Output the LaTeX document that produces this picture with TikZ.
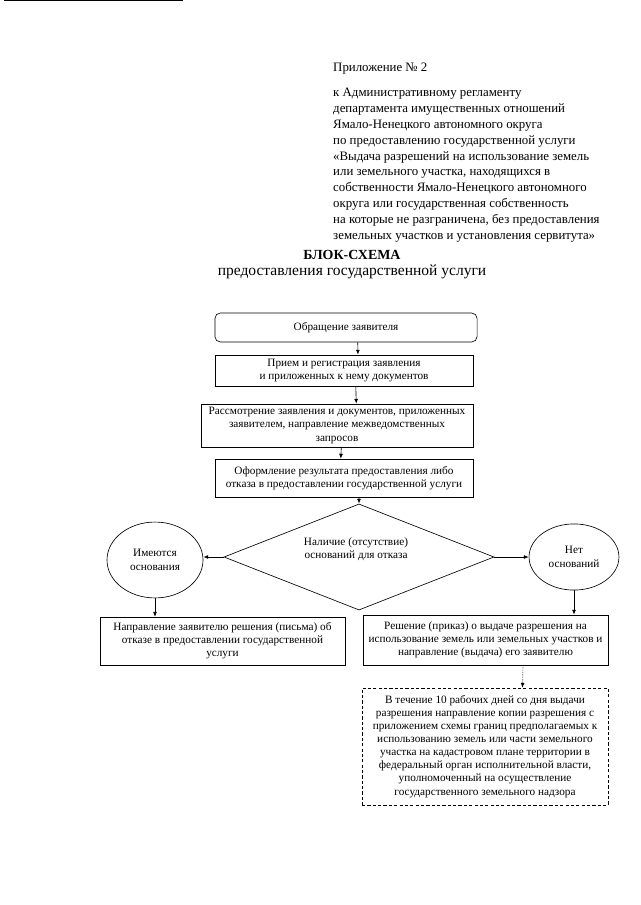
\documentclass[tikz,border=0pt]{standalone}
\usepackage{fontspec}
\setmainfont{Liberation Serif}
\usetikzlibrary{arrows.meta, positioning, shapes.geometric}

\begin{document}
\begin{tikzpicture}[x=0.03281cm, y=-0.03281cm,
  box/.style={draw, line width=0.6pt, align=center, inner sep=2pt, font=\fontsize{10.5}{12.2}\selectfont},
  oval/.style={draw, ellipse, line width=0.6pt, align=center, inner sep=0pt, font=\fontsize{10.5}{12.6}\selectfont},
  arr/.style={-{Latex[length=4.5pt,width=3.6pt]}, line width=0.6pt}
]
  \useasboundingbox (0,0) rectangle (640,905);

  % Scan edge
  \draw[line width=1pt] (4,0.5) -- (183,0.5);

  % Header
  \node[anchor=north west, inner sep=0pt, font=\fontsize{12}{14.8}\selectfont] (app) at (333,63) {Приложение № 2};
  \node[anchor=north west, inner sep=0pt, align=left, font=\fontsize{12}{14.8}\selectfont] (reg) at (333,88)
    {к Административному регламенту\\
     департамента имущественных отношений\\
     Ямало-Ненецкого автономного округа\\
     по предоставлению государственной услуги\\
     «Выдача разрешений на использование земель\\
     или земельного участка, находящихся в\\
     собственности Ямало-Ненецкого автономного\\
     округа или государственная собственность\\
     на которые не разграничена, без предоставления\\
     земельных участков и установления сервитута»};

  % Title
  \node[font=\fontsize{13}{15}\selectfont\bfseries] (ttl) at (352,255) {БЛОК-СХЕМА};
  \node[font=\fontsize{14.5}{17}\selectfont] (sub) at (352,272) {предоставления государственной услуги};

  % Main column
  \node[box, rounded corners=5pt, minimum width=8.60cm, minimum height=0.95cm] (obr) at (346,327.5)
    {Обращение заявителя};
  \node[box, minimum width=8.47cm, minimum height=1.02cm] (pri) at (344,370.5)
    {Прием и регистрация заявления\\и приложенных к нему документов};
  \node[box, minimum width=8.92cm, minimum height=1.41cm] (ras) at (337,425.5)
    {Рассмотрение заявления и документов, приложенных\\заявителем, направление межведомственных\\запросов};
  \node[box, minimum width=8.47cm, minimum height=1.25cm] (ofo) at (344,478)
    {Оформление результата предоставления либо\\отказа в предоставлении государственной услуги};

  % Decision
  \node[draw, diamond, line width=0.6pt, inner sep=0pt, shape aspect=2.5,
        minimum width=8.86cm, minimum height=3.48cm] (dia) at (359,557) {};
  \node[align=center, inner sep=0pt, font=\fontsize{10.5}{12.6}\selectfont] (dit) at (356,549)
    {Наличие (отсутствие)\\оснований для отказа};
  \node[oval, minimum width=3.15cm, minimum height=2.49cm] (lov) at (155,560) {Имеются\\основания};
  \node[oval, minimum width=2.95cm, minimum height=2.17cm] (rov) at (574,557) {Нет\\оснований};

  % Results
  \node[box, minimum width=8.04cm, minimum height=1.57cm] (nap) at (222.5,641)
    {Направление заявителю решения (письма) об\\отказе в предоставлении государственной\\услуги};
  \node[box, minimum width=8.04cm, minimum height=1.64cm] (res) at (485.5,640)
    {Решение (приказ) о выдаче разрешения на\\использование земель или земельных участков и\\направление (выдача) его заявителю};
  \node[box, dash pattern=on 3pt off 2pt, minimum width=8.07cm, minimum height=3.84cm] (dsh) at (485,746.5)
    {В течение 10 рабочих дней со дня выдачи\\разрешения направление копии разрешения с\\приложением схемы границ предполагаемых к\\использованию земель или части земельного\\участка на кадастровом плане территории в\\федеральный орган исполнительной власти,\\уполномоченный на осуществление\\государственного земельного надзора};

  % Connectors
  \draw[arr] ([xshift=11]obr.south) -- ([xshift=13]pri.north);
  \draw[arr] ([xshift=11]pri.south) -- ([xshift=18]ras.north);
  \draw[arr] ([xshift=4]ras.south) -- ([xshift=-3]ofo.north);
  \draw[arr] ([xshift=14]ofo.south) -- (dia.north);
  \draw[arr] (dia.west) -- (dia.west -| lov.east);
  \draw[arr] (dia.east) -- (rov.west);
  \draw[arr] (lov.south) -- (nap.north -| lov.south);
  \draw[arr] (rov.south) -- (res.north -| rov.south);
  \draw[arr, densely dotted] ([xshift=35]res.south) -- ([xshift=35]dsh.north);
\end{tikzpicture}
\end{document}
